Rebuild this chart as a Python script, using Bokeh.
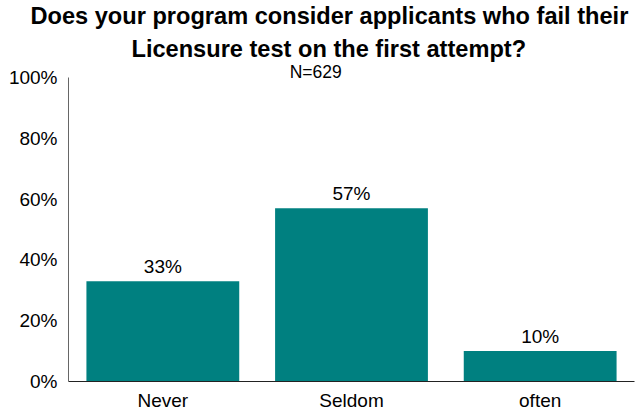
from bokeh.plotting import figure
from bokeh.models import Range1d, FactorRange, FixedTicker, CustomJSTickFormatter, ColumnDataSource, LabelSet, Label, Title
from bokeh.core.properties import value
from bokeh.embed import file_html
from bokeh.resources import INLINE

categories = ["Never", "Seldom", "often"]
values = [33, 57, 10]
labels = ["33%", "57%", "10%"]
y_ticks = [0, 20, 40, 60, 80, 100]
title_lines = ["Does your program consider applicants who fail their",
               "Licensure test on the first attempt?"]
subtitle = "N=629"

FONT = "Liberation Sans"

src = ColumnDataSource(dict(cat=categories, val=values, lab=labels))

p = figure(width=639, height=413, output_backend="svg", toolbar_location=None,
           x_range=FactorRange(*categories, range_padding=0),
           y_range=Range1d(0, 105.3),
           min_border_left=68, min_border_right=5, min_border_top=0, min_border_bottom=31)
p.outline_line_color = None
p.grid.grid_line_color = None
p.background_fill_color = "white"
p.border_fill_color = "white"

p.title.text = title_lines[0]
p.title.align = "left"
p.title.offset = -38
p.title.standoff = 0
p.title.text_font = FONT
p.title.text_font_size = "23.6px"
p.title.text_font_style = "bold"
p.title.text_color = "black"
p.add_layout(Title(text=title_lines[1], align="left", offset=63, standoff=0,
                   text_font=FONT, text_font_size="23.6px", text_font_style="bold",
                   text_color="black"), "above")
# thin spacer above the title block
p.add_layout(Title(text=" ", standoff=2, text_font=FONT, text_font_size="1px"), "above")

p.vbar(x="cat", top="val", width=0.81, source=src, color="#008080", line_color=None)

p.yaxis.bounds = (0, 100)
p.yaxis.ticker = FixedTicker(ticks=y_ticks)
p.yaxis.formatter = CustomJSTickFormatter(code="return tick + '%';")
p.yaxis.major_tick_line_color = None
p.yaxis.minor_tick_line_color = None
p.yaxis.axis_line_color = "#666666"
p.yaxis.major_label_text_font = FONT
p.yaxis.major_label_text_font_size = "19px"
p.yaxis.major_label_text_color = "black"
p.yaxis.major_label_standoff = 5

p.xaxis.major_tick_line_color = None
p.xaxis.minor_tick_line_color = None
p.xaxis.axis_line_color = "#222222"
p.xaxis.major_label_text_font = FONT
p.xaxis.major_label_text_font_size = "19px"
p.xaxis.major_label_text_color = "black"
p.xaxis.major_label_standoff = 2

p.add_layout(LabelSet(x="cat", y="val", text="lab", source=src, text_align="center",
                      text_baseline="bottom", y_offset=4, text_font=value(FONT),
                      text_font_size=value("19px"), text_color=value("black")))

p.add_layout(Label(x=1.31, y=102.0, text=subtitle, text_align="center", text_baseline="middle",
                   text_font=FONT, text_font_size="17.5px", text_color="black"))

open("out.html", "w").write(file_html(p, INLINE))
